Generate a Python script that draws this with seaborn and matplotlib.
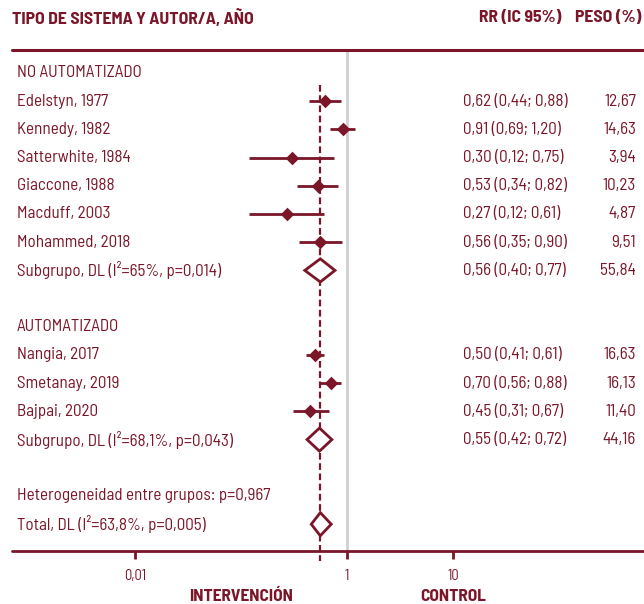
import numpy as np
import pandas as pd
import matplotlib
matplotlib.use("Agg")
import matplotlib.pyplot as plt
import matplotlib.transforms as mtransforms
import seaborn as sns

# Estudios no automatizados
no_auto_names = ["Edelstyn, 1977", "Kennedy, 1982", "Satterwhite, 1984",
                 "Giaccone, 1988", "Macduff, 2003", "Mohammed, 2018"]
no_auto_rr = [0.62, 0.91, 0.30, 0.53, 0.27, 0.56]
no_auto_lo = [0.44, 0.69, 0.12, 0.34, 0.12, 0.35]
no_auto_hi = [0.88, 1.20, 0.75, 0.82, 0.61, 0.90]
no_auto_w = ["12,67", "14,63", "3,94", "10,23", "4,87", "9,51"]

# Estudios automatizados
auto_names = ["Nangia, 2017", "Smetanay, 2019", "Bajpai, 2020"]
auto_rr = [0.50, 0.70, 0.45]
auto_lo = [0.41, 0.56, 0.31]
auto_hi = [0.61, 0.88, 0.67]
auto_w = ["16,63", "16,13", "11,40"]

# Subgrupos y total
sub_labels = ["Subgrupo, DL (I²=65%, p=0,014)", "Subgrupo, DL (I²=68,1%, p=0,043)"]
sub_rr = [0.56, 0.55]
sub_lo = [0.40, 0.42]
sub_hi = [0.77, 0.72]
sub_w = ["55,84", "44,16"]
total_label = "Total, DL (I²=63,8%, p=0,005)"
total_rr, total_lo, total_hi = 0.56, 0.46, 0.71
het_label = "Heterogeneidad entre grupos: p=0,967"

tick_vals = [0.01, 1, 10]
tick_labels = ["0,01", "1", "10"]

RED = "#7a1628"
GREY = "#cfcfcf"


def fmt(v):
    return f"{v:.2f}".replace(".", ",")


def main():
    sns.set_theme(style="white")
    plt.rcParams["font.family"] = ["Barlow Semi Condensed", "DejaVu Sans"]

    fig = plt.figure(figsize=(6.44, 6.04), dpi=100)
    ax = fig.add_axes([0, 0, 1, 1])
    ax.set_xscale("log")
    ax.set_xlim(10 ** (-347 / 106), 10 ** (297 / 106))
    ax.set_ylim((604 - 73) / 28.2, -73 / 28.2)
    ax.axis("off")

    # study rows
    rows = pd.DataFrame({
        "name": no_auto_names + auto_names,
        "rr": no_auto_rr + auto_rr,
        "lo": no_auto_lo + auto_lo,
        "hi": no_auto_hi + auto_hi,
        "w": no_auto_w + auto_w,
        "y": list(range(1, 7)) + list(range(10, 13)),
    })
    sub_y = [7, 13]
    total_y = 16

    trans = mtransforms.blended_transform_factory(fig.transFigure, ax.transData)
    txt = dict(color=RED, fontsize=12.3, va="center", transform=trans)

    # reference lines
    ax.vlines(1, -0.82, 16.95, color=GREY, lw=2, zorder=1)
    ax.vlines(total_rr, 0.43, 17.3, color=RED, lw=1.6, linestyles=(0, (3, 1.6)), zorder=2)
    ax.axhline(-0.82, xmin=12 / 644, xmax=1, color=RED, lw=2.2)
    ax.axhline(16.95, xmin=12 / 644, xmax=1, color=RED, lw=2)
    ax.vlines(tick_vals, 16.95, 17.25, color=RED, lw=2)

    # CI lines and points
    ax.hlines(rows["y"], rows["lo"], rows["hi"], color=RED, lw=2, zorder=3)
    sns.scatterplot(data=rows, x="rr", y="y", marker="D", s=48, color=RED,
                    edgecolor=RED, linewidth=0, ax=ax, zorder=4, legend=False)
    ax.set_xlabel("")
    ax.set_ylabel("")

    # diamonds
    h = 0.41
    for y, r, lo, hi in zip(sub_y + [total_y], sub_rr + [total_rr],
                            sub_lo + [total_lo], sub_hi + [total_hi]):
        ax.fill([lo, r, hi, r], [y, y - h, y, y + h], facecolor="white",
                edgecolor=RED, lw=2, zorder=3, joinstyle="miter")

    # header
    hdr = dict(color=RED, fontsize=12.7, fontweight="bold", va="center", transform=fig.transFigure)
    ax.text(12 / 644, 1 - 18 / 604, "TIPO DE SISTEMA Y AUTOR/A, AÑO", ha="left", **hdr)
    ax.text(561 / 644, 1 - 18 / 604, "RR (IC 95%)", ha="right", **hdr)
    ax.text(641 / 644, 1 - 18 / 604, "PESO (%)", ha="right", **hdr)

    # left column labels
    ax.text(17 / 644, 0, "NO AUTOMATIZADO", ha="left", **txt)
    ax.text(17 / 644, 9, "AUTOMATIZADO", ha="left", **txt)
    for _, r in rows.iterrows():
        ax.text(17 / 644, r["y"], r["name"], ha="left", **txt)
        ax.text(463 / 644, r["y"], f"{fmt(r['rr'])} ({fmt(r['lo'])}; {fmt(r['hi'])})", ha="left", **txt)
        ax.text(636 / 644, r["y"], r["w"], ha="right", **txt)
    for y, lab, r, lo, hi, w in zip(sub_y, sub_labels, sub_rr, sub_lo, sub_hi, sub_w):
        ax.text(17 / 644, y, lab, ha="left", **txt)
        ax.text(463 / 644, y, f"{fmt(r)} ({fmt(lo)}; {fmt(hi)})", ha="left", **txt)
        ax.text(636 / 644, y, w, ha="right", **txt)
    ax.text(17 / 644, 15, het_label, ha="left", **txt)
    ax.text(17 / 644, total_y, total_label, ha="left", **txt)

    # x tick labels
    for v, lab in zip(tick_vals, tick_labels):
        ax.text(v, 17.82, lab, ha="center", va="center", color=RED, fontsize=10.5)
    ax.text(0.1, 18.55, "INTERVENCIÓN", ha="center", va="center", color=RED,
            fontsize=12.5, fontweight="bold")
    ax.text(10, 18.55, "CONTROL", ha="center", va="center", color=RED,
            fontsize=12.5, fontweight="bold")

    fig.savefig("out.png", dpi=100)


if __name__ == "__main__":
    main()
